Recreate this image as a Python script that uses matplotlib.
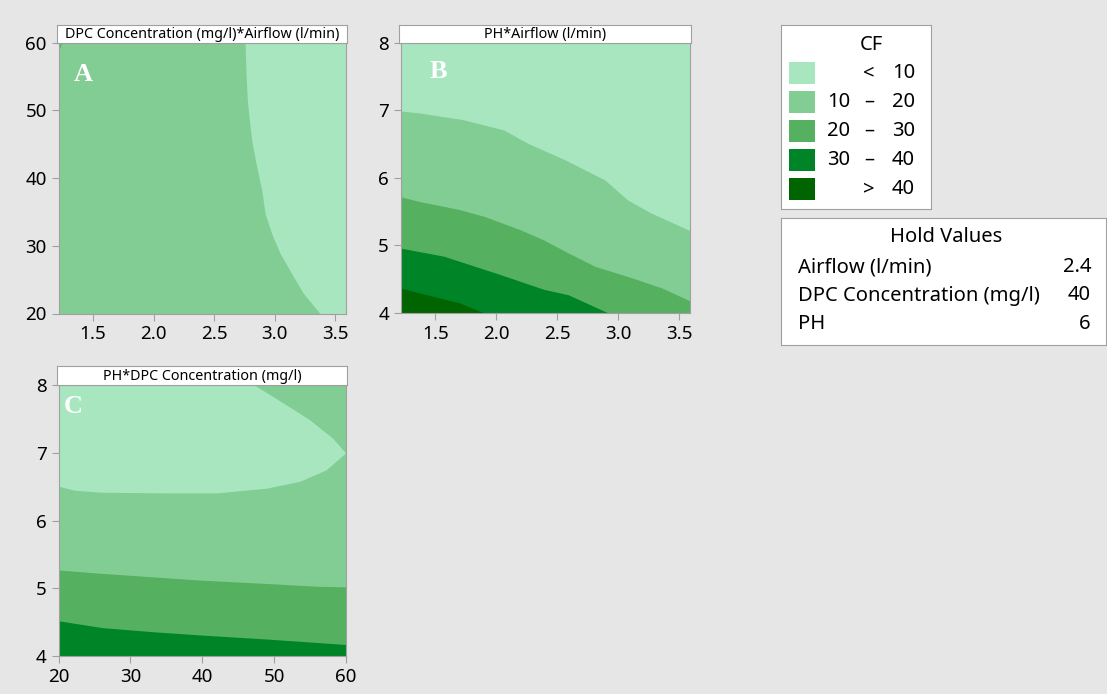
import matplotlib.pyplot as plt
from matplotlib.patches import Rectangle

plt.rcParams['font.family'] = ['Noto Sans', 'DejaVu Sans']

# CF classes (legend)
cf_colors = ['#a8e6c0', '#82cd94', '#55b05f', '#008428', '#006400']
cf_low = ['', '10', '20', '30', '']
cf_sep = ['<', '–', '–', '–', '>']
cf_high = ['10', '20', '30', '40', '40']

hold_names = ['Airflow (l/min)', 'DPC Concentration (mg/l)', 'PH']
hold_values = ['2.4', '40', '6']

panel_titles = ['DPC Concentration (mg/l)*Airflow (l/min)', 'PH*Airflow (l/min)',
                'PH*DPC Concentration (mg/l)']
panel_letters = ['A', 'B', 'C']

# panel A: airflow (x) vs DPC concentration (y); CF=10 contour
a_edge_y = [60, 55.5, 51.5, 48.6, 45.6, 41.7, 38.2, 34.8, 31.8, 28.9, 25.9, 23.0, 20]
a_edge_x = [2.756, 2.764, 2.775, 2.791, 2.811, 2.852, 2.894, 2.921, 2.976, 3.045, 3.141,
            3.237, 3.375]
a_spot_x = [1.215, 1.245, 1.215]
a_spot_y = [60, 60, 58.3]

# panel B: airflow (x) vs PH (y); contours CF = 10, 20, 30, 40
b_x10 = [1.215, 1.37, 1.73, 2.06, 2.26, 2.56, 2.89, 3.08, 3.27, 3.6]
b_y10 = [6.99, 6.96, 6.86, 6.71, 6.51, 6.27, 5.97, 5.67, 5.48, 5.21]
b_x20 = [1.215, 1.37, 1.70, 1.90, 2.20, 2.39, 2.59, 2.81, 3.08, 3.36, 3.6]
b_y20 = [5.72, 5.65, 5.53, 5.43, 5.23, 5.08, 4.89, 4.69, 4.54, 4.37, 4.17]
b_x30 = [1.215, 1.57, 2.03, 2.39, 2.59, 2.92]
b_y30 = [4.96, 4.84, 4.57, 4.35, 4.27, 4.0]
b_x40 = [1.215, 1.43, 1.70, 1.90]
b_y40 = [4.37, 4.27, 4.15, 4.0]

# panel C: DPC concentration (x) vs PH (y)
c_x10 = [20, 47.2, 51.3, 55.0, 58.2, 60, 57.3, 53.6, 49.0, 42.1, 35.2, 26.0, 22.3, 20]
c_y10 = [8, 8, 7.73, 7.48, 7.21, 6.99, 6.74, 6.57, 6.47, 6.40, 6.40, 6.41, 6.44, 6.5]
c_x20 = [20, 26, 32.9, 39.8, 49.0, 55.9, 60]
c_y20 = [5.27, 5.22, 5.17, 5.12, 5.07, 5.03, 5.02]
c_x30 = [20, 26, 32.9, 39.8, 49.0, 55.9, 60]
c_y30 = [4.52, 4.42, 4.36, 4.31, 4.25, 4.20, 4.17]

W, H = 1107, 694
fig = plt.figure(figsize=(W / 100, H / 100), dpi=100, facecolor='#e6e6e6')
frame = '#a0a0a0'


def box(l, t, r, b):
    return [l / W, (H - b) / H, (r - l) / W, (b - t) / H]


def panel(rect, strip, title, letter, lx, ly, xlim, ylim, xticks, yticks, xfmt):
    ax = fig.add_axes(rect)
    ax.set_xlim(*xlim)
    ax.set_ylim(*ylim)
    for s in ax.spines.values():
        s.set_color(frame)
    ax.tick_params(colors=frame, labelcolor='black', labelsize=13.5, length=5, direction='out')
    ax.set_xticks(xticks)
    ax.set_xticklabels([xfmt.format(v) for v in xticks])
    ax.set_yticks(yticks)
    ax.text(lx, ly, letter, transform=ax.transAxes, color='white', fontsize=19,
            fontweight='bold', family='Liberation Serif', ha='center', va='center', zorder=5)
    st = fig.add_axes(strip)
    st.set_xticks([])
    st.set_yticks([])
    st.set_facecolor('white')
    for s in st.spines.values():
        s.set_color(frame)
    st.text(0.5, 0.45, title, ha='center', va='center', fontsize=10.3, transform=st.transAxes)
    return ax


xa = (1.215, 3.59)
# A
axA = panel(box(58.5, 42.7, 346, 313.5), box(57, 25, 347, 42.7), panel_titles[0],
            panel_letters[0], 0.085, 0.884, xa, (20, 60),
            [1.5, 2.0, 2.5, 3.0, 3.5], [20, 30, 40, 50, 60], '{:.1f}')
axA.set_facecolor(cf_colors[0])
axA.fill_betweenx(a_edge_y, xa[0], a_edge_x, color=cf_colors[1], lw=0)
axA.fill(a_spot_x, a_spot_y, color=cf_colors[2], lw=0)

# B
axB = panel(box(400.7, 42.7, 690, 313), box(399, 25, 691, 42.7), panel_titles[1],
            panel_letters[1], 0.129, 0.892, xa, (4, 8),
            [1.5, 2.0, 2.5, 3.0, 3.5], [4, 5, 6, 7, 8], '{:.1f}')
axB.set_facecolor(cf_colors[0])
for xs, ys, c in [(b_x10, b_y10, cf_colors[1]), (b_x20, b_y20, cf_colors[2]),
                  (b_x30, b_y30, cf_colors[3]), (b_x40, b_y40, cf_colors[4])]:
    axB.fill_between(xs, 4, ys, color=c, lw=0)

# C
axC = panel(box(58.5, 385, 346, 656), box(57, 366, 347, 385), panel_titles[2],
            panel_letters[2], 0.05, 0.919, (20, 60), (4, 8),
            [20, 30, 40, 50, 60], [4, 5, 6, 7, 8], '{:.0f}')
axC.set_facecolor(cf_colors[1])
axC.fill(c_x10, c_y10, color=cf_colors[0], lw=0)
axC.fill_between(c_x20, 4, c_y20, color=cf_colors[2], lw=0)
axC.fill_between(c_x30, 4, c_y30, color=cf_colors[3], lw=0)

# CF legend box
lg = fig.add_axes(box(781, 25, 931, 209))
lg.set_xlim(781, 931)
lg.set_ylim(209, 25)
lg.set_xticks([])
lg.set_yticks([])
for s in lg.spines.values():
    s.set_color(frame)
lg.text(871, 45, 'CF', ha='center', va='center', fontsize=14.5)
for i, c in enumerate(cf_colors):
    yc = 73 + i * 29
    lg.add_patch(Rectangle((789, yc - 11), 26, 22, color=c, lw=0))
    lg.text(850, yc, cf_low[i], ha='right', va='center', fontsize=14.5)
    lg.text(869, yc, cf_sep[i], ha='center', va='center', fontsize=14.5)
    lg.text(915, yc, cf_high[i], ha='right', va='center', fontsize=14.5)

# Hold values box
hv = fig.add_axes(box(781, 218, 1106, 345))
hv.set_xlim(781, 1106)
hv.set_ylim(345, 218)
hv.set_xticks([])
hv.set_yticks([])
for s in hv.spines.values():
    s.set_color(frame)
hv.text(946, 237, 'Hold Values', ha='center', va='center', fontsize=14.5)
for i, (n, v) in enumerate(zip(hold_names, hold_values)):
    yc = 267 + i * 28.5
    hv.text(798, yc, n, ha='left', va='center', fontsize=14.5)
    hv.text(1091, yc, v, ha='right', va='center', fontsize=14.5)

fig.savefig('out.png', dpi=100, facecolor=fig.get_facecolor())
